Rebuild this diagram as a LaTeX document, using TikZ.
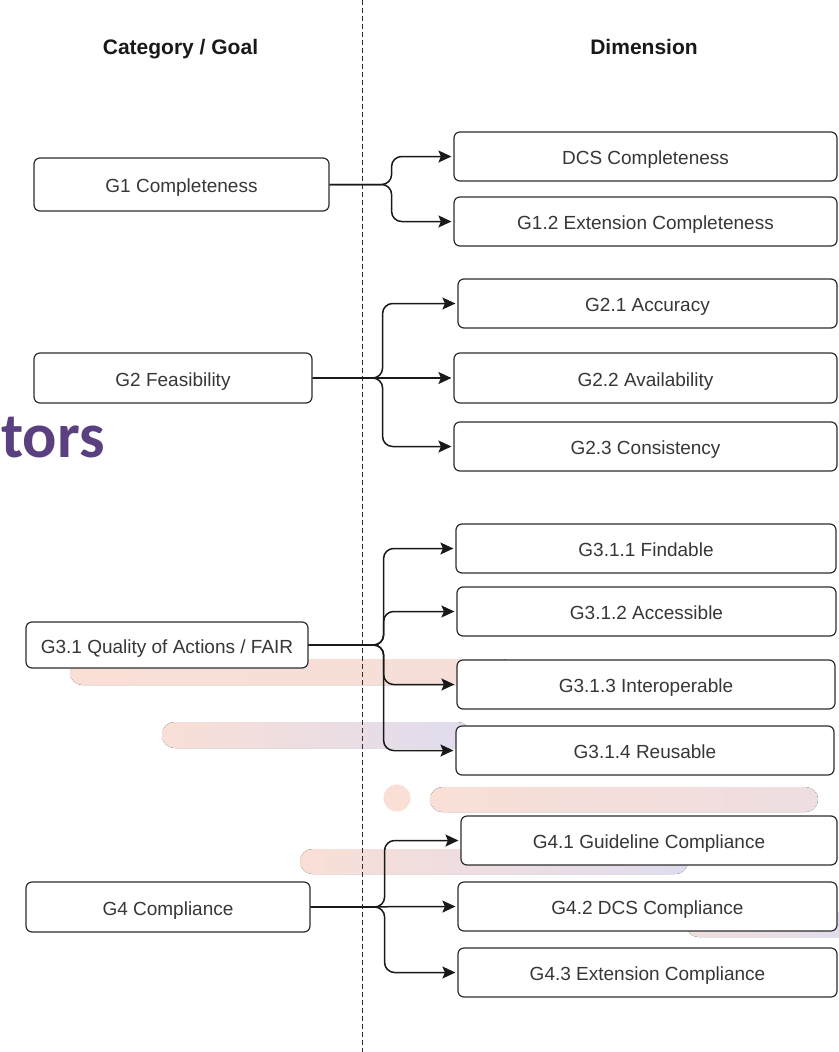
\documentclass[tikz,border=0pt]{standalone}
\usepackage{fontspec}
\setmainfont{Liberation Sans}
\newfontfamily\calfont{Carlito}
\usetikzlibrary{arrows.meta}
\definecolor{pinkc}{RGB}{249,223,214}
\definecolor{lavc}{RGB}{224,220,238}
\definecolor{purp}{RGB}{90,64,128}
\definecolor{edgec}{RGB}{45,45,45}
\definecolor{txtc}{RGB}{55,55,55}
\tikzset{
  box/.style={draw=edgec, line width=1.2pt, rounded corners=6pt, fill=white,
    text=txtc, font=\fontsize{19}{22}\selectfont, inner sep=0pt,
    text height=16pt, text depth=0pt},
  hdr/.style={font=\bfseries\fontsize{21}{24}\selectfont, text=black!90,
    text height=17pt, text depth=0pt, inner sep=0pt},
  conn/.style={draw=black!90, line width=1.5pt, rounded corners=10pt,
    shorten >=2pt, -{Stealth[length=13pt,width=12pt,inset=2.5pt]}},
  bar/.style={rounded corners=12.5pt}
}
\begin{document}
\begin{tikzpicture}[x=1pt,y=-1pt]
\useasboundingbox (0,0) rectangle (838,1052);
\fill[white] (0,0) rectangle (838,1052);
% decorative bars
\fill[bar, left color=pinkc, right color=pinkc!85!lavc] (70,659) rectangle (515,685);
\fill[bar, left color=pinkc, right color=lavc] (162,722) rectangle (470,748);
\fill[pinkc] (397,798) circle (13.5);
\fill[bar, left color=pinkc, right color=pinkc!55!lavc] (430,787) rectangle (818,812);
\fill[bar, left color=pinkc, right color=lavc] (300,849) rectangle (688,874);
\fill[bar, left color=pinkc!70!lavc, right color=lavc] (686,912) rectangle (860,937);
% purple fragment
\node[anchor=base east, inner sep=0pt, text=purp, font=\calfont\bfseries\fontsize{64}{70}\selectfont] (tors) at (105,457) {tors};
% divider
\draw[edgec, line width=1pt, dash pattern=on 5pt off 3pt] (362,0) coordinate (dtop) -- (362,1052) coordinate (dbot);
% headers
\node[hdr] (hcat) at (180.5,46) {Category / Goal};
\node[hdr] (hdim) at (644,46) {Dimension};
% left boxes
\node[box, minimum width=295pt, minimum height=53pt] (g1) at (181.5,184.5) {G1 Completeness};
\node[box, minimum width=278pt, minimum height=50pt] (g2) at (173,378) {G2 Feasibility};
\node[box, minimum width=282pt, minimum height=46pt] (g3) at (167,645) {G3.1 Quality of Actions / FAIR};
\node[box, minimum width=284pt, minimum height=50pt] (g4) at (168,907) {G4 Compliance};
% right boxes
\node[box, minimum width=383pt, minimum height=49pt] (d1) at (645.5,156.5) {DCS Completeness};
\node[box, minimum width=383pt, minimum height=49pt] (d2) at (645.5,221.5) {G1.2 Extension Completeness};
\node[box, minimum width=379pt, minimum height=49pt] (e1) at (647.5,303.5) {G2.1 Accuracy};
\node[box, minimum width=383pt, minimum height=50pt] (e2) at (645.5,378) {G2.2 Availability};
\node[box, minimum width=383pt, minimum height=49pt] (e3) at (645.5,446.5) {G2.3 Consistency};
\node[box, minimum width=380pt, minimum height=49pt] (f1) at (646,548.5) {G3.1.1 Findable};
\node[box, minimum width=379pt, minimum height=49pt] (f2) at (646.5,611.5) {G3.1.2 Accessible};
\node[box, minimum width=378pt, minimum height=49pt] (f3) at (646,684.5) {G3.1.3 Interoperable};
\node[box, minimum width=378pt, minimum height=49pt] (f4) at (645,750.5) {G3.1.4 Reusable};
\node[box, minimum width=376pt, minimum height=49pt] (h1) at (649,840.5) {G4.1 Guideline Compliance};
\node[box, minimum width=379pt, minimum height=49pt] (h2) at (647.5,906.5) {G4.2 DCS Compliance};
\node[box, minimum width=379pt, minimum height=49pt] (h3) at (647.5,972.5) {G4.3 Extension Compliance};
% connectors
\draw[conn] (g1.east) -- ++(62,0) |- (d1.west);
\draw[conn] (g1.east) -- ++(62,0) |- (d2.west);
\draw[conn] (g2.east) -- ++(70,0) |- (e1.west);
\draw[conn] (g2.east) -- (e2.west);
\draw[conn] (g2.east) -- ++(70,0) |- (e3.west);
\draw[conn] (g3.east) -- ++(75,0) |- (f1.west);
\draw[conn] (g3.east) -- ++(75,0) |- (f2.west);
\draw[conn] (g3.east) -- ++(75,0) |- (f3.west);
\draw[conn] (g3.east) -- ++(75,0) |- (f4.west);
\draw[conn] (g4.east) -- ++(74,0) |- (h1.west);
\draw[conn] (g4.east) -- (h2.west);
\draw[conn] (g4.east) -- ++(74,0) |- (h3.west);
\end{tikzpicture}
\end{document}
